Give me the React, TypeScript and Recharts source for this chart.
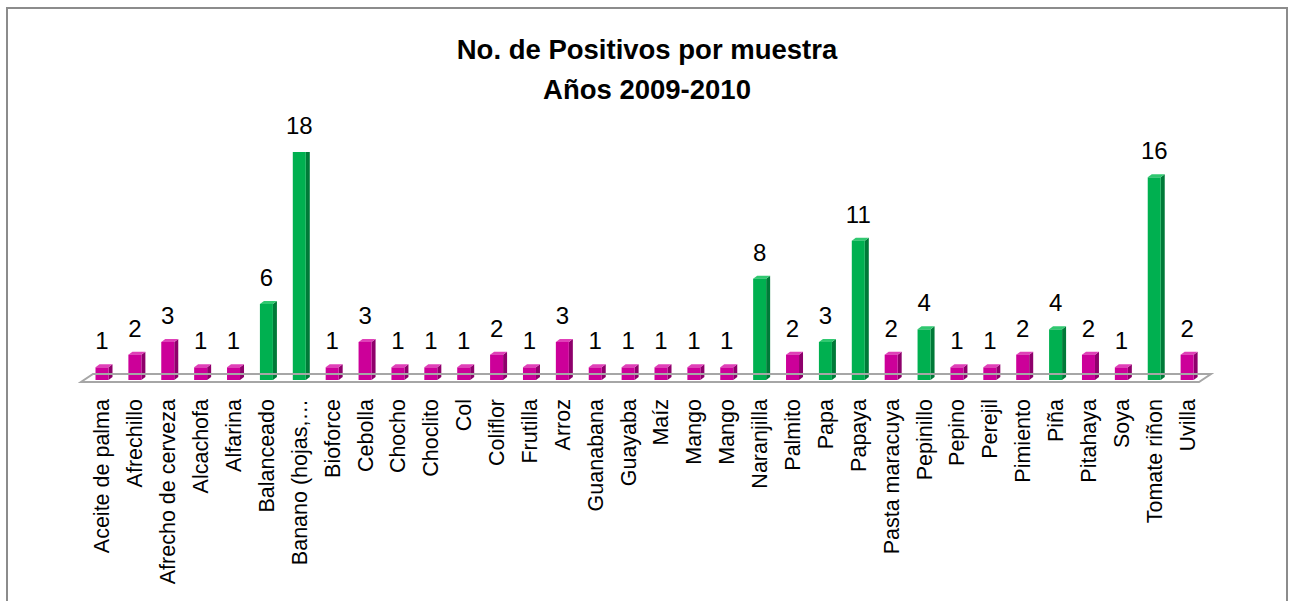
import React from "react";
import { BarChart, Bar, XAxis, YAxis, LabelList, ReferenceLine } from "recharts";

const categories = [
  "Aceite de palma", "Afrechillo", "Afrecho de cerveza", "Alcachofa", "Alfarina",
  "Balanceado", "Banano (hojas,…", "Bioforce", "Cebolla", "Chocho", "Choclito", "Col",
  "Coliflor", "Frutilla", "Arroz", "Guanabana", "Guayaba", "Maíz", "Mango", "Mango",
  "Naranjilla", "Palmito", "Papa", "Papaya", "Pasta maracuya", "Pepinillo", "Pepino",
  "Perejil", "Pimiento", "Piña", "Pitahaya", "Soya", "Tomate riñon", "Uvilla",
];
const values = [1, 2, 3, 1, 1, 6, 18, 1, 3, 1, 1, 1, 2, 1, 3, 1, 1, 1, 1, 1, 8, 2, 3, 11, 2, 4, 1, 1, 2, 4, 2, 1, 16, 2];
const groups = [
  "m", "m", "m", "m", "m", "g", "g", "m", "m", "m", "m", "m", "m", "m", "m", "m", "m", "m", "m", "m",
  "g", "m", "g", "g", "m", "g", "m", "m", "m", "g", "m", "m", "g", "m",
];
const titleLines = ["No. de Positivos por muestra", "Años 2009-2010"];

const data = categories.map((name, i) => ({ name, value: values[i], group: groups[i] }));

const palette: Record<string, { front: string; side: string; top: string }> = {
  m: { front: "#CC0099", side: "#8E006B", top: "#E040B8" },
  g: { front: "#00B050", side: "#007A38", top: "#30C870" },
};

const FONT = "'Liberation Sans', Arial, sans-serif";

function Bar3D(props: any) {
  const { x, y, width, height, payload } = props;
  const c = palette[payload.group];
  const d = 4;
  const dy = 3;
  return (
    <g>
      <polygon
        points={`${x + width},${y} ${x + width + d},${y - dy} ${x + width + d},${y + height - dy} ${x + width},${y + height}`}
        fill={c.side}
      />
      <polygon
        points={`${x},${y} ${x + d},${y - dy} ${x + width + d},${y - dy} ${x + width},${y}`}
        fill={c.top}
      />
      <rect x={x} y={y} width={width} height={height} fill={c.front} />
    </g>
  );
}

function Floor(props: any) {
  const { x1, y1, x2 } = props;
  if (x1 == null) return null;
  const pts = `${x1 - 4.5},${y1 + 2} ${x2 - 4.5},${y1 + 2} ${x2 + 7.5},${y1 - 6} ${x1 + 7.5},${y1 - 6}`;
  return <polygon points={pts} fill="none" stroke="#A6A6A6" strokeWidth={2} />;
}

function CatTick(props: any) {
  const { x, y, payload } = props;
  return (
    <g transform={`translate(${x},${y})`}>
      <text
        transform="rotate(-90)"
        x={-19}
        y={0}
        dy="0.35em"
        textAnchor="end"
        fontSize={21.5}
        fontFamily={FONT}
        fill="#000"
      >
        {payload.value}
      </text>
    </g>
  );
}

export default function App() {
  return (
    <div style={{ position: "absolute", left: 0, top: 0, width: 1294, height: 601, background: "#fff", overflow: "hidden" }}>
      <div
        style={{
          position: "absolute",
          left: 6,
          top: 7,
          width: 1282,
          height: 600,
          border: "2px solid #8C8C8C",
          borderBottom: "none",
          boxSizing: "border-box",
        }}
      />
      <div style={{ position: "absolute", left: 0, top: 0 }}>
        <BarChart
          width={1294}
          height={601}
          data={data}
          margin={{ top: 152, right: 90.5, bottom: 0, left: 85.5 }}
        >
          <YAxis hide domain={[0, 18]} allowDataOverflow />
          <XAxis
            dataKey="name"
            height={221}
            interval={0}
            tickLine={false}
            axisLine={false}
            tickSize={0}
            tickMargin={0}
            tick={<CatTick />}
          />
          <ReferenceLine y={0} ifOverflow="visible" shape={(p: any) => <Floor {...p} />} />
          <Bar dataKey="value" barSize={13} isAnimationActive={false} shape={(p: any) => <Bar3D {...p} />}>
            <LabelList dataKey="value" position="top" offset={18} fontSize={24} fontFamily={FONT} fill="#000" />
          </Bar>
        </BarChart>
      </div>
      <svg width={1294} height={601} style={{ position: "absolute", left: 0, top: 0, pointerEvents: "none" }}>
        <text x={647} y={59} textAnchor="middle" fontSize={27.5} fontWeight="bold" fontFamily={FONT} fill="#000">
          {titleLines[0]}
        </text>
        <text x={647} y={99} textAnchor="middle" fontSize={27.5} fontWeight="bold" fontFamily={FONT} fill="#000">
          {titleLines[1]}
        </text>
      </svg>
    </div>
  );
}
